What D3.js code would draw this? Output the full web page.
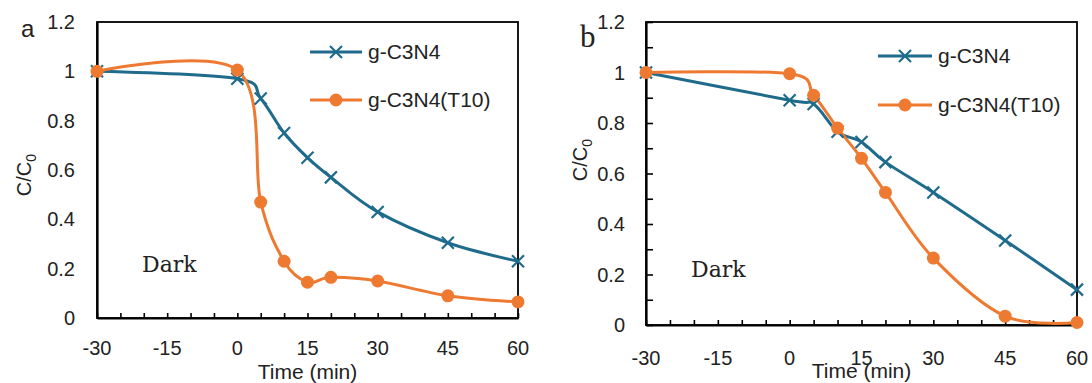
<!DOCTYPE html>
<html>
<head>
<meta charset="utf-8">
<script src="https://cdn.jsdelivr.net/npm/d3@7"></script>
<style>
  body { margin: 0; background: #fff; }
  text { font-family: "Liberation Sans", Arial, sans-serif; fill: #222; }
</style>
</head>
<body>
<div id="chart"></div>
<script>
// data
var times = [-30, 0, 5, 10, 15, 20, 30, 45, 60];
var aPure = [1.0, 0.97, 0.89, 0.75, 0.65, 0.57, 0.43, 0.305, 0.23];
var aT10 = [1.0, 1.005, 0.47, 0.23, 0.145, 0.165, 0.15, 0.09, 0.065];
var bPure = [1.0, 0.89, 0.875, 0.765, 0.725, 0.645, 0.525, 0.335, 0.14];
var bT10 = [1.0, 0.995, 0.91, 0.78, 0.66, 0.525, 0.265, 0.035, 0.01];
var xTickLabels = [-30, -15, 0, 15, 30, 45, 60];
var yTickLabels = [0, 0.2, 0.4, 0.6, 0.8, 1, 1.2];
var seriesNames = ["g-C3N4", "g-C3N4(T10)"];

var blue = "#1f6b8c";
var orange = "#ee7a31";

var w = 1092, h = 383;
var svg = d3.select("#chart").append("svg")
    .attr("width", w)
    .attr("height", h);
svg.append("rect").attr("width", w).attr("height", h).attr("fill", "#fff");

function panel(cfg) {
    var x = d3.scaleLinear().domain([-30, 60]).range([cfg.left, cfg.right]);
    var y = d3.scaleLinear().domain([0, 1.2]).range([cfg.bottom, cfg.top]);
    var g = svg.append("g");

    // frame
    g.append("rect")
     .attr("x", cfg.left).attr("y", cfg.top)
     .attr("width", cfg.right - cfg.left).attr("height", cfg.bottom - cfg.top)
     .attr("fill", "none").attr("stroke", "#000").attr("stroke-width", 1.8);

    // x tick marks every 5 min, pointing inside
    var xAxis = g.append("g")
        .attr("transform", "translate(0," + cfg.bottom + ")")
        .call(d3.axisBottom(x).tickValues(d3.range(-30, 61, 5)).tickSizeInner(-5).tickSizeOuter(0).tickFormat(""));
    xAxis.select(".domain").attr("stroke", "#000").attr("stroke-width", 2.2);
    xAxis.selectAll(".tick line").attr("stroke", "#000").attr("stroke-width", 1.6);

    // y axis
    var yAxis = g.append("g")
        .attr("transform", "translate(" + cfg.left + ",0)")
        .call(d3.axisLeft(y)
            .tickValues(cfg.yMinor ? d3.range(0, 1.21, 0.1) : [])
            .tickSizeInner(-7).tickSizeOuter(0).tickFormat(""));
    yAxis.select(".domain").attr("stroke", "#000").attr("stroke-width", 2.2);
    yAxis.selectAll(".tick line").attr("stroke", "#000").attr("stroke-width", 1.6);

    // tick labels
    g.selectAll(".xl").data(xTickLabels).enter().append("text")
     .attr("x", function(d) { return x(d); })
     .attr("y", cfg.xLabelY)
     .attr("text-anchor", "middle")
     .style("font-size", "20px")
     .text(function(d) { return d; });

    g.selectAll(".yl").data(yTickLabels).enter().append("text")
     .attr("x", cfg.yLabelX)
     .attr("y", function(d) { return y(d); })
     .attr("dy", "0.35em")
     .attr("text-anchor", "end")
     .style("font-size", "20px")
     .text(function(d) { return d; });

    // axis titles
    g.append("text")
     .attr("x", (cfg.left + cfg.right) / 2)
     .attr("y", cfg.titleY)
     .attr("text-anchor", "middle")
     .style("font-size", "21px")
     .text("Time (min)");

    var yt = g.append("text")
     .attr("transform", "translate(" + cfg.yTitle[0] + "," + cfg.yTitle[1] + ") rotate(-90)")
     .attr("text-anchor", "middle")
     .style("font-size", "20px");
    yt.append("tspan").text("C/C");
    yt.append("tspan").attr("dy", 5).style("font-size", "14px").text("0");

    // panel letter
    g.append("text")
     .attr("x", cfg.letterPos[0]).attr("y", cfg.letterPos[1])
     .style("font-family", cfg.letterFont)
     .style("font-size", cfg.letterSize)
     .text(cfg.letter);

    g.append("text")
     .attr("x", cfg.darkPos[0]).attr("y", cfg.darkPos[1])
     .style("font-family", "'DejaVu Serif', serif")
     .style("font-size", "22px")
     .text("Dark");

    var line = d3.line()
        .x(function(d) { return x(d[0]); })
        .y(function(d) { return y(d[1]); })
        .curve(d3.curveCardinal.tension(0));

    var pure = d3.zip(times, cfg.pure);
    var t10 = d3.zip(times, cfg.t10);

    g.append("path").datum(pure).attr("d", line)
     .attr("fill", "none").attr("stroke", blue).attr("stroke-width", 3);
    g.append("path").datum(t10).attr("d", line)
     .attr("fill", "none").attr("stroke", orange).attr("stroke-width", 3);

    function cross(sel, cx, cy) {
        sel.append("path")
           .attr("d", "M" + (cx - 6) + "," + (cy - 6) + "L" + (cx + 6) + "," + (cy + 6) +
                      "M" + (cx - 6) + "," + (cy + 6) + "L" + (cx + 6) + "," + (cy - 6))
           .attr("stroke", blue).attr("stroke-width", 2.2).attr("fill", "none");
    }

    pure.forEach(function(d) { cross(g, x(d[0]), y(d[1])); });

    g.selectAll(".dot").data(t10).enter().append("circle")
     .attr("cx", function(d) { return x(d[0]); })
     .attr("cy", function(d) { return y(d[1]); })
     .attr("r", 6.5)
     .attr("fill", orange);

    // legend
    var lg = cfg.legend;
    var mid = (lg.x1 + lg.x2) / 2;
    g.append("line").attr("x1", lg.x1).attr("x2", lg.x2).attr("y1", lg.y1).attr("y2", lg.y1)
     .attr("stroke", blue).attr("stroke-width", 3);
    cross(g, mid, lg.y1);
    g.append("line").attr("x1", lg.x1).attr("x2", lg.x2).attr("y1", lg.y2).attr("y2", lg.y2)
     .attr("stroke", orange).attr("stroke-width", 3);
    g.append("circle").attr("cx", mid).attr("cy", lg.y2).attr("r", 6.5).attr("fill", orange);
    g.append("text").attr("x", lg.x2 + 6).attr("y", lg.y1).attr("dy", "0.35em")
     .style("font-size", "21px").text(seriesNames[0]);
    g.append("text").attr("x", lg.x2 + 6).attr("y", lg.y2).attr("dy", "0.35em")
     .style("font-size", "21px").text(seriesNames[1]);
}

panel({
    left: 97, right: 518, top: 22, bottom: 318,
    yMinor: false,
    xLabelY: 355, yLabelX: 75, titleY: 379,
    yTitle: [31, 175],
    letter: "a", letterPos: [21, 37], letterSize: "24px", letterFont: "'Liberation Sans', sans-serif",
    darkPos: [142, 272],
    pure: aPure, t10: aT10,
    legend: { x1: 310, x2: 362, y1: 52, y2: 100 }
});

panel({
    left: 646, right: 1077, top: 22, bottom: 325,
    yMinor: true,
    xLabelY: 365, yLabelX: 625, titleY: 378,
    yTitle: [587, 160],
    letter: "b", letterPos: [580, 47], letterSize: "31px", letterFont: "'Liberation Serif', serif",
    darkPos: [691, 277],
    pure: bPure, t10: bT10,
    legend: { x1: 878, x2: 932, y1: 56, y2: 105 }
});
</script>
</body>
</html>
